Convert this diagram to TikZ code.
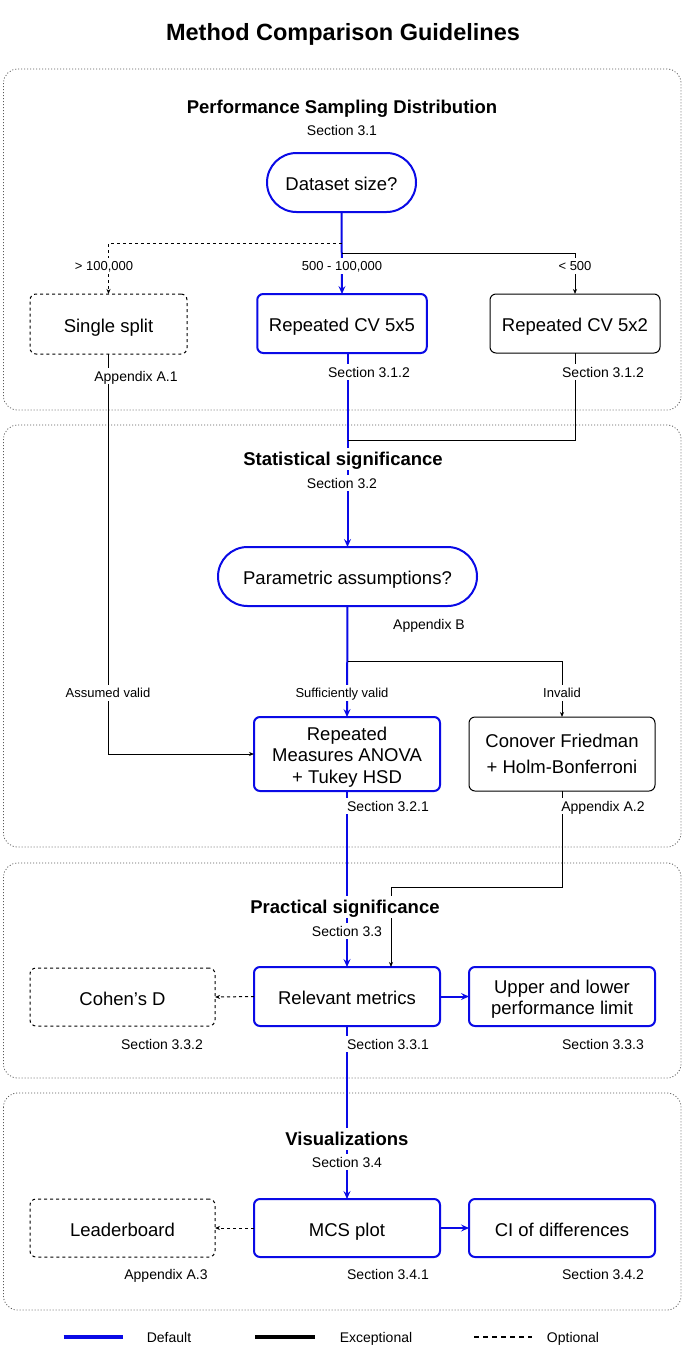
\documentclass[tikz,border=0pt]{standalone}
\usepackage{fontspec}
\setmainfont{Liberation Sans}
\usetikzlibrary{arrows.meta}
\definecolor{defblue}{RGB}{10,10,230}
\begin{document}
\begin{tikzpicture}[x=1pt,y=-1pt,
  every node/.style={inner sep=0pt, outer sep=0pt},
  grp/.style={draw=black!65, line width=0.8pt, dash pattern=on 1pt off 2pt, rounded corners=14pt},
  box/.style={draw, rounded corners=6pt, minimum width=186pt, minimum height=59pt, align=center, font=\fontsize{18.5}{22}\selectfont, fill=white},
  one/.style={text height=16.5pt, text depth=0pt},
  defbox/.style={box, draw=defblue, line width=2pt},
  excbox/.style={box, draw=black, line width=1pt},
  optbox/.style={box, draw=black, line width=1pt, dash pattern=on 3pt off 3pt},
  bigtip/.style={-{Stealth[length=8pt,width=7pt,inset=3pt]}},
  smalltip/.style={-{Stealth[length=5pt,width=4pt,inset=1.5pt]}},
  defl/.style={draw=defblue, line width=2pt},
  excl/.style={draw=black, line width=1pt},
  optl/.style={draw=black, line width=1pt, dash pattern=on 3pt off 3pt},
  lbl/.style={fill=white, inner sep=1.5pt, text height=12pt, text depth=1.5pt, font=\fontsize{14}{16}\selectfont},
  elbl/.style={fill=white, inner sep=1.5pt, text height=11pt, text depth=1.5pt, font=\fontsize{13}{15}\selectfont},
  gtitle/.style={fill=white, inner sep=2pt, text height=15pt, text depth=2.4pt, font=\fontsize{18.5}{22}\selectfont\bfseries},
]
\useasboundingbox[fill=white] (0,0) rectangle (687,1366);

% group boxes
\draw[grp] (3.5,69) rectangle (681,410);
\draw[grp] (3.5,425) rectangle (681,847);
\draw[grp] (3.5,863) rectangle (681,1078);
\draw[grp] (3.5,1093) rectangle (681,1310);

% title
\node[font=\fontsize{23.5}{28}\selectfont\bfseries, text height=17pt, text depth=5pt] (title) at (343,34) {Method Comparison Guidelines};

% nodes
\node[defbox, one, rounded corners=29.5pt, minimum width=149pt] (ds) at (341.5,182.5) {Dataset size?};
\node[optbox, one, minimum width=157pt, minimum height=60pt] (single) at (108.5,324) {Single split};
\node[defbox, one, minimum width=169.5pt] (cv55) at (342,323.5) {Repeated CV 5x5};
\node[excbox, one, minimum width=170pt] (cv52) at (575,323.5) {Repeated CV 5x2};
\node[defbox, one, rounded corners=29.5pt, minimum width=259pt] (param) at (347.5,576.5) {Parametric assumptions?};
\node[defbox, minimum height=74pt, font=\fontsize{18.5}{21.7}\selectfont] (anova) at (347,754) {\rule{0pt}{19.4pt}Repeated\\Measures ANOVA\\+ Tukey HSD};
\node[excbox, minimum height=74pt, font=\fontsize{18.5}{25.6}\selectfont] (conover) at (562,754) {Conover Friedman\\+ Holm-Bonferroni};
\node[optbox, one, minimum width=185pt, minimum height=58pt] (cohen) at (122.5,997) {Cohen’s D};
\node[defbox, one] (rel) at (347,996.5) {Relevant metrics};
\node[defbox, font=\fontsize{18.5}{20.7}\selectfont] (upper) at (562,996.5) {\rule{0pt}{18.3pt}Upper and lower\\performance limit};
\node[optbox, one, minimum width=185pt, minimum height=58pt] (leader) at (122.5,1228) {Leaderboard};
\node[defbox, one, minimum height=58pt] (mcs) at (347,1228) {MCS plot};
\node[defbox, one, minimum height=58pt] (ci) at (562,1228) {CI of differences};

% coordinates
\coordinate (b1) at (341.5,243);
\coordinate (b2) at (341.5,253);
\coordinate (j1) at (347.5,440);
\coordinate (b3) at (347.5,661);
\coordinate (j2) at (391,887);

% connectors
\draw[defl, bigtip] (ds.south) -- (cv55.north);
\draw[optl, smalltip] (b1) -| (single.north);
\draw[excl, smalltip] (b2) -| (cv52.north);
\draw[defl, bigtip] (cv55.south -| param.north) -- (param.north);
\draw[excl] (cv52.south) |- (j1);
\draw[excl, smalltip] (single.south) |- (anova.west);
\draw[defl, bigtip] (param.south) -- (anova.north);
\draw[excl, smalltip] (b3) -| (conover.north);
\draw[excl, smalltip] (conover.south) |- (j2) -- (j2 |- rel.north);
\draw[defl, bigtip] (anova.south) -- (rel.north);
\draw[optl, smalltip] (rel.west) -- (cohen.east);
\draw[defl, bigtip] (rel.east) -- (upper.west);
\draw[defl, bigtip] (rel.south) -- (mcs.north);
\draw[optl, smalltip] (mcs.west) -- (leader.east);
\draw[defl, bigtip] (mcs.east) -- (ci.west);

% group titles
\node[gtitle] (g1) at (342,107) {Performance Sampling Distribution};
\node[lbl] (g1s) at (342,130) {Section 3.1};
\node[gtitle] (g2) at (343,459) {Statistical significance};
\node[lbl] (g2s) at (342,483) {Section 3.2};
\node[gtitle] (g3) at (345,907) {Practical significance};
\node[lbl] (g3s) at (347,931) {Section 3.3};
\node[gtitle] (g4) at (347,1139) {Visualizations};
\node[lbl] (g4s) at (347,1162) {Section 3.4};

% edge labels
\node[elbl] (e1) at (104,266) {> 100,000};
\node[elbl] (e2) at (342,266) {500 - 100,000};
\node[elbl] (e3) at (575,266) {< 500};
\node[elbl] (e4) at (108,693) {Assumed valid};
\node[elbl] (e5) at (342,693) {Sufficiently valid};
\node[elbl] (e6) at (562,693) {Invalid};

% reference labels
\node[lbl] (r1) at (136,376) {Appendix A.1};
\node[lbl] (r2) at (369,372) {Section 3.1.2};
\node[lbl] (r3) at (603,372) {Section 3.1.2};
\node[lbl] (r4) at (429,624) {Appendix B};
\node[lbl] (r5) at (388,806) {Section 3.2.1};
\node[lbl] (r6) at (603,806) {Appendix A.2};
\node[lbl] (r7) at (162,1044) {Section 3.3.2};
\node[lbl] (r8) at (388,1044) {Section 3.3.1};
\node[lbl] (r9) at (603,1044) {Section 3.3.3};
\node[lbl] (r10) at (166,1274) {Appendix A.3};
\node[lbl] (r11) at (388,1274) {Section 3.4.1};
\node[lbl] (r12) at (603,1274) {Section 3.4.2};

% legend
\coordinate (la1) at (63.5,1337); \coordinate (la2) at (122.5,1337);
\coordinate (lb1) at (255,1337); \coordinate (lb2) at (314.5,1337);
\coordinate (lc1) at (474,1337); \coordinate (lc2) at (532,1337);
\draw[draw=defblue, line width=4pt] (la1) -- (la2);
\draw[draw=black, line width=4pt] (lb1) -- (lb2);
\draw[draw=black, line width=1.5pt, dash pattern=on 5pt off 4pt] (lc1) -- (lc2);
\node[lbl] (lt1) at (169,1337) {Default};
\node[lbl] (lt2) at (376,1337) {Exceptional};
\node[lbl] (lt3) at (573,1337) {Optional};
\end{tikzpicture}
\end{document}
